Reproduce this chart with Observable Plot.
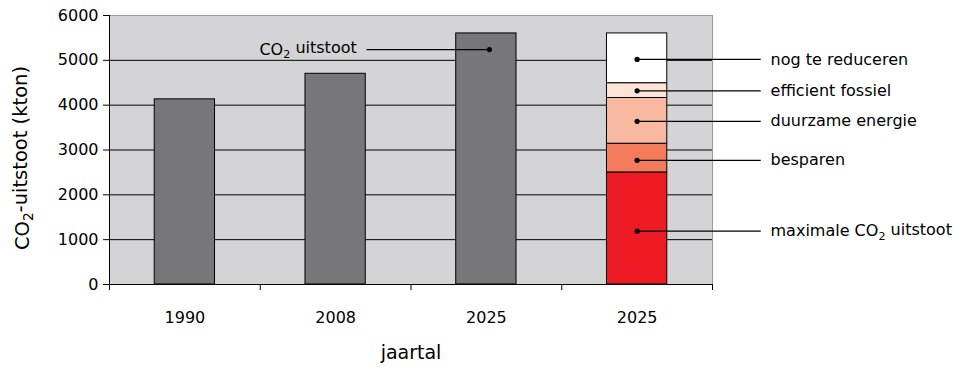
<!DOCTYPE html>
<html><head><meta charset="utf-8">
<script src="https://cdn.jsdelivr.net/npm/d3@7"></script>
<script src="https://cdn.jsdelivr.net/npm/@observablehq/plot@0.6"></script>
<style>
body{margin:0;background:#fff;}
#chart svg{display:block;}
</style>
</head><body><div id="chart"></div>
<script>
// ---- data ----
const categories = ["1990", "2008", "2025", "2025"];
const totals = [4130, 4700, 5600];
const segments = ["maximale CO2 uitstoot", "besparen", "duurzame energie", "efficient fossiel", "nog te reduceren"];
const segmentValues = [2500, 640, 1020, 330, 1110];
const segmentLabelY = [1190, 2770, 3640, 4320, 5020];
const segmentColors = ["#ed1c24", "#f37b5b", "#f9b9a0", "#fde4d8", "#ffffff"];
const yTicks = [0, 1000, 2000, 3000, 4000, 5000, 6000];
const gridValues = [1000, 2000, 3000, 4000, 5000];
const totalLabel = "CO2 uitstoot";
const totalLabelY = 5240;
const yTitle = "CO2-uitstoot (kton)";
const xTitle = "jaartal";

// ---- derived tables ----
const barHalf = 0.2;
const bars = totals.map((v, i) => ({x1: i + 0.5 - barHalf, x2: i + 0.5 + barHalf, y: v}));
const stackIndex = 3;
const stack = segments.map((s, i) => ({s, v: segmentValues[i], ly: segmentLabelY[i],
  x1: stackIndex + 0.5 - barHalf, x2: stackIndex + 0.5 + barHalf, cx: stackIndex + 0.5}));
const lineEnd = 4.32, labelX = 4.385;
const tot = [{cx: 2.52, y: totalLabelY, lx: 1.705, tx: 1.64, t: totalLabel}];

const FONT = "'DejaVu Sans', Verdana, sans-serif";

const chart = Plot.plot({
  width: 954, height: 371,
  marginLeft: 109, marginRight: 242, marginTop: 15, marginBottom: 87,
  style: {fontFamily: FONT, fontSize: "16px", color: "#000", background: "#fff"},
  x: {type: "linear", domain: [0, 4], axis: null},
  y: {domain: [0, 6000], axis: null},
  color: {domain: segments, range: segmentColors},
  marks: [
    Plot.frame({fill: "#d4d4d6", stroke: "#9a9a9a"}),
    Plot.ruleY(gridValues, {stroke: "#000", strokeWidth: 1}),
    Plot.rectY(bars, {x1: "x1", x2: "x2", y1: 0, y2: "y", fill: "#777779", stroke: "#000", strokeWidth: 1}),
    Plot.rectY(stack, {x1: "x1", x2: "x2", y: "v", fill: "s", stroke: "#000", strokeWidth: 1}),
    Plot.ruleX([0], {stroke: "#000"}),
    Plot.ruleY([0], {stroke: "#000"}),
    Plot.axisY({ticks: yTicks, tickSize: 6, tickPadding: 5, tickFormat: d3.format("d"), label: null, fontSize: 16}),
    Plot.axisX({ticks: [0, 1, 2, 3, 4], tickSize: 6, tickFormat: () => "", label: null}),
    Plot.axisX({ticks: categories.map((c, i) => i + 0.5), tickSize: 0, tickPadding: 27,
      tickFormat: d => categories[Math.round(d - 0.5)], label: null, fontSize: 16}),
    // segment annotations
    Plot.link(stack, {x1: "cx", x2: () => lineEnd, y1: "ly", y2: "ly", stroke: "#000", strokeWidth: 1.2}),
    Plot.dot(stack, {x: "cx", y: "ly", r: 2.6, fill: "#000"}),
    Plot.text(stack, {x: () => labelX, y: "ly", text: "s", textAnchor: "start", fontSize: 16, fill: "#000"}),
    // total annotation
    Plot.link(tot, {x1: "cx", x2: "lx", y1: "y", y2: "y", stroke: "#000", strokeWidth: 1.2}),
    Plot.dot(tot, {x: "cx", y: "y", r: 2.6, fill: "#000"}),
    Plot.text(tot, {x: "tx", y: "y", text: "t", textAnchor: "end", fontSize: 16, fill: "#000"}),
    // titles
    Plot.text([xTitle], {frameAnchor: "bottom", dy: 74, fontSize: 19, fill: "#000"}),
    Plot.text([yTitle], {frameAnchor: "left", textAnchor: "middle", dx: -87, dy: 8, rotate: -90, fontSize: 19.5, fill: "#000"})
  ]
});

// subscript the "2" in CO2
chart.querySelectorAll("text, tspan").forEach(el => {
  Array.from(el.childNodes).forEach(node => {
    if (node.nodeType === 3 && node.nodeValue.includes("CO2")) {
      const idx = node.nodeValue.indexOf("CO2");
      const before = node.nodeValue.slice(0, idx + 2);
      const after = node.nodeValue.slice(idx + 3);
      const ns = "http://www.w3.org/2000/svg";
      const t1 = document.createTextNode(before);
      const sub = document.createElementNS(ns, "tspan");
      sub.setAttribute("dy", "0.33em");
      sub.setAttribute("font-size", "0.7em");
      sub.textContent = "2";
      const rest = document.createElementNS(ns, "tspan");
      rest.setAttribute("dy", "-0.33em");
      rest.textContent = after;
      el.insertBefore(t1, node);
      el.insertBefore(sub, node);
      el.insertBefore(rest, node);
      el.removeChild(node);
    }
  });
});

document.getElementById("chart").appendChild(chart);
</script>
</body></html>
